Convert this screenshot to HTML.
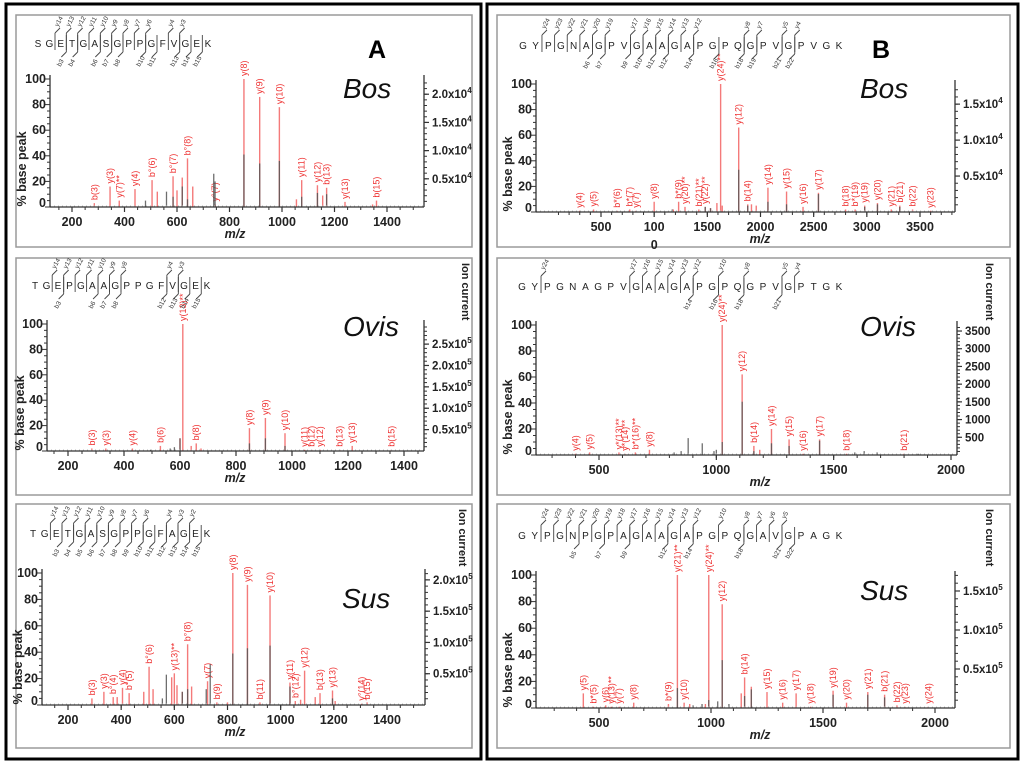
<!DOCTYPE html>
<html><head><meta charset="utf-8">
<style>
html,body{margin:0;padding:0;background:#fff;}
svg{display:block;font-family:"Liberation Sans",sans-serif;}
</style></head>
<body>
<svg id="fig" width="1024" height="765" viewBox="0 0 1024 765" xmlns="http://www.w3.org/2000/svg">
<rect x="6" y="4" width="475" height="755" fill="none" stroke="#000" stroke-width="3"/>
<rect x="487" y="4" width="531" height="755" fill="none" stroke="#000" stroke-width="3"/>
<text x="368" y="58" font-size="25" font-weight="bold">A</text>
<text x="872" y="58" font-size="25" font-weight="bold">B</text>
</svg>
<script>
// ===== Data: A Bos =====
const aBosMz   = [285,345,380,440,505,525,585,600,620,640,660,745,855,915,990,1055,1075,1135,1155,1170,1240,1345,1360];
const aBosInt  = [3,16,5,14,21,12,24,13,23,38,16,2,100,86,78,6,21,17,9,15,4,2,5];
const aBosLab  = ["b(3)","y(3)","y(7)**","y(4)","b°(6)","","b°(7)","","","b°(8)","","y°(7)","y(8)","y(9)","y(10)","","y(11)","y(12)","","b(13)","y(13)","","b(15)"];
const aBosBkMz = [480,560,585,620,640,740,745,855,915,990,1075,1135,1170];
const aBosBkInt= [5,12,8,16,6,26,20,41,34,36,8,11,10];
// ===== Data: A Ovis =====
const aOvisMz  = [285,335,430,530,600,610,640,658,675,848,905,975,1045,1070,1100,1170,1215,1355];
const aOvisInt = [2,2,2,4,10,100,4,6,2,18,26,14,1,1,1,1,4,1];
const aOvisLab = ["b(3)","y(3)","y(4)","b(6)","","y(13)**","","b(8)","","y(8)","y(9)","y(10)","y(11)","b(12)","y(12)","b(13)","y(13)","b(15)"];
const aOvisBkMz = [495,565,580,600,848,905,975];
const aOvisBkInt= [1,2,3,10,6,10,4];
// ===== Data: A Sus =====
const aSusMz   = [290,335,370,385,405,430,485,505,520,590,600,610,630,650,665,725,760,800,820,875,922,960,1035,1055,1075,1090,1130,1148,1195,1205,1305,1325];
const aSusInt  = [5,10,6,6,13,9,10,29,12,21,24,15,10,46,14,18,2,2,100,91,2,83,17,3,4,26,6,9,11,3,1,2];
const aSusLab  = ["b(3)","y(3)","b°(4)","","y(4)","b°(5)","","b°(6)","","","y(13)**","","","b°(8)","","y(7)","b(9)","","y(8)","y(9)","b(11)","y(10)","y(11)","b°(12)","","y(12)","","b(13)","y(13)","","y°(14)","b(15)"];
const aSusBkMz = [555,570,630,650,720,735,820,875,960,1035,1195];
const aSusBkInt= [5,23,10,12,12,31,39,43,45,14,5];
// ===== Data: B Bos =====
const bBosMz   = [300,430,650,770,830,1000,1180,1230,1290,1420,1480,1530,1590,1625,1640,1795,1880,1915,1960,2070,2245,2400,2545,2800,2890,2980,3100,3230,3310,3430,3600];
const bBosInt  = [1,2,1,2,1,8,2,8,4,2,4,3,7,100,5,66,6,6,5,19,16,4,15,2,2,5,7,2,5,2,1];
const bBosLab  = ["y(4)","y(5)","b*(6)","b*(7)","y(7)","y(8)","","b*(9)","y(20)**","b(21)**","y(22)**","","","y(24)**","","y(12)","b(14)","","","y(14)","y(15)","y(16)","y(17)","b(18)","b*(19)","y(19)","y(20)","y(21)","b(21)","b(22)","y(23)"];
const bBosBkMz = [1170,1480,1530,1795,1880,2070,2245,2545,2980,3100,3310];
const bBosBkInt= [2,4,3,33,5,8,6,14,4,6,4];
// ===== Data: B Ovis =====
const bOvisMz  = [400,460,585,610,655,715,1025,1110,1160,1185,1235,1310,1370,1440,1555,1800];
const bOvisInt = [1,2,2,1,2,4,100,62,7,4,20,12,1,12,1,1];
const bOvisLab = ["y(4)","y(5)","y*(13)**","y*(14)**","b*(16)**","y(8)","y(24)**","y(12)","b(14)","","y(14)","y(15)","y(16)","y(17)","b(18)","b(21)"];
const bOvisBkMz = [820,850,880,940,990,1000,1025,1110,1160,1235,1310,1440,1590,1630,1685,1860];
const bOvisBkInt= [2,3,13,9,3,4,10,41,3,9,7,11,2,3,2,1];
// ===== Data: B Sus =====
const bSusMz   = [430,475,530,555,590,655,810,850,880,905,975,990,1050,1135,1150,1180,1250,1320,1380,1445,1545,1605,1700,1775,1830,1865,1970];
const bSusInt  = [11,1,2,1,1,4,3,100,4,3,3,100,78,11,23,16,12,4,11,1,13,4,12,10,2,1,1];
const bSusLab  = ["y(5)","b*(5)","y(6)","y(13)**","y(7)","y(8)","b*(9)","y(21)**","y(10)","","","y(24)**","y(12)","","b(14)","","y(15)","y(16)","y(17)","y(18)","y(19)","y(20)","y(21)","b(21)","b(22)","y(23)","y(24)"];
const bSusBkMz = [920,960,850,990,1030,1050,1080,1150,1180,1545,1700,1775];
const bSusBkInt= [2,3,15,6,5,36,3,9,14,10,10,8];
// ===== Axis tick data =====
const aXTicks = [200,400,600,800,1000,1200,1400];
const bBosXTicks = [500,1000,1500,2000,2500,3000,3500];
const bBosXTickLabels = ["500","100","1500","2000","2500","3000","3500"];
const bXTicks = [500,1000,1500,2000];
const yTicks = [0,20,40,60,80,100];
const aBosRight = [0.5,1.0,1.5,2.0];
const aOvisRight = [0.5,1.0,1.5,2.0,2.5];
const aSusRight = [0.5,1.0,1.5,2.0];
const bBosRight = [0.5,1.0,1.5];
const bOvisRight = [500,1000,1500,2000,2500,3000,3500];
const bSusRight = [0.5,1.0,1.5];

const NS = "http://www.w3.org/2000/svg";
const svg = document.getElementById('fig');
function mk(tag, attrs, parent, txt){
  const e = document.createElementNS(NS, tag);
  for (const k in attrs) e.setAttribute(k, attrs[k]);
  if (txt !== undefined) e.textContent = txt;
  (parent || svg).appendChild(e);
  return e;
}

function drawPanel(c){
  const g = mk('g', {});
  
  
  const fr = mk('rect', {x:c.fx, y:c.fy, width:c.fw, height:c.fh, fill:'none', stroke:'#9a9a9a', 'stroke-width':1.5}, g);
  
  
  const sx = m => c.p1 + (m - c.m1) * (c.p2 - c.p1) / (c.m2 - c.m1);
  const sy = v => c.base - v * (c.base - c.top) / 100;
  const ry = v => c.base - v * (c.base - c.top) / c.rMax;
  for (let i = 0; i < c.mz.length; i++){
    const x = sx(c.mz[i]), y = sy(c.int[i]);
    const ln = mk('line', {x1:x, x2:x, y1:c.base, y2:y, stroke:'#f47a7a', 'stroke-width':1.4}, g);
    
    
    if (c.lab[i]){
      const t = mk('text', {x:0, y:0, transform:`translate(${x+3},${y-3}) rotate(-90)`, 'font-size':9, fill:'#ee3030'}, g, c.lab[i]);
      
      
    }
  }
  for (let i = 0; i < c.bkMz.length; i++){
    const x = sx(c.bkMz[i]);
    const ln = mk('line', {x1:x, x2:x, y1:c.base, y2:sy(c.bkInt[i]), stroke:'#555', 'stroke-width':1.3, opacity:0.85}, g);
    
    
  }
  mk('line', {x1:c.ax, x2:c.rx, y1:c.base-1, y2:c.base-1, stroke:'#bbb', 'stroke-width':1, 'stroke-dasharray':'1 3'}, g);
  const xa = mk('line', {x1:c.ax, x2:c.rx, y1:c.base, y2:c.base, stroke:'#333', 'stroke-width':1.3}, g);
  
  
  const ya = mk('line', {x1:c.ax, x2:c.ax, y1:c.top-4, y2:c.base, stroke:'#333', 'stroke-width':1.3}, g);
  
  
  const ra = mk('line', {x1:c.rx, x2:c.rx, y1:c.top-4, y2:c.base, stroke:'#333', 'stroke-width':1.3}, g);
  
  
  for (let m = c.minorStart; sx(m) <= c.rx; m += c.minor){
    if (sx(m) < c.ax) continue;
    mk('line', {x1:sx(m), x2:sx(m), y1:c.base, y2:c.base+3, stroke:'#333', 'stroke-width':1}, g);
  }
  c.xt.forEach((v, i) => {
    mk('line', {x1:sx(v), x2:sx(v), y1:c.base, y2:c.base+5, stroke:'#333', 'stroke-width':1.2}, g);
    const t = mk('text', {x:sx(v), y:c.base+19, 'font-size':12.5, 'font-weight':'bold', 'text-anchor':'middle', fill:'#222'}, g, c.xtl ? c.xtl[i] : String(v));
    
    
  });
  for (let v = 0; v <= 100; v += 5){
    mk('line', {x1:c.ax-(v%20===0?5:3), x2:c.ax, y1:sy(v), y2:sy(v), stroke:'#333', 'stroke-width':1}, g);
  }
  yTicks.forEach(v => {
    const t = mk('text', {x:c.ax-4, y:sy(v)+4 - (v===0?4:0), 'font-size':12.5, 'font-weight':'bold', 'text-anchor':'end', fill:'#222'}, g, String(v));
    
    
  });
  const rStep = c.rTicks[1] - c.rTicks[0];
  for (let v = rStep/5; v <= c.rMax; v += rStep/5){
    mk('line', {x1:c.rx, x2:c.rx+3, y1:ry(v), y2:ry(v), stroke:'#333', 'stroke-width':1}, g);
  }
  c.rTicks.forEach(v => {
    mk('line', {x1:c.rx, x2:c.rx+5, y1:ry(v), y2:ry(v), stroke:'#333', 'stroke-width':1.2}, g);
    const t = mk('text', {x:c.rx+8, y:ry(v)+4, 'font-size':11.5, 'font-weight':'bold', fill:'#222'}, g);
    
    
    if (c.rExp){
      mk('tspan', {}, t, v.toFixed(1) + 'x10');
      mk('tspan', {dy:-5, 'font-size':8}, t, c.rExp);
    } else {
      t.textContent = String(v);
    }
  });
  if (c.extraZero){
    const t = mk('text', {x:sx(1000), y:c.base+37, 'font-size':12.5, 'font-weight':'bold', 'text-anchor':'middle', fill:'#222'}, g, '0');
    
    
  }
  const yl = mk('text', {x:0, y:0, transform:`translate(${c.ylx},${c.base-38}) rotate(-90)`, 'font-size':12.5, 'font-weight':'bold', 'text-anchor':'middle', fill:'#222'}, g, '% base peak');
  
  
  const xl = mk('text', {x:c.mzx, y:c.base+31, 'font-size':12.5, 'font-weight':'bold', 'font-style':'italic', 'text-anchor':'middle', fill:'#222'}, g, 'm/z');
  
  
  if (c.ionX){
    const il = mk('text', {x:0, y:0, transform:`translate(${c.ionX},${c.fy+5}) rotate(90)`, 'font-size':11, 'font-weight':'bold', fill:'#222'}, g, 'Ion current');
    
    
  }
  const sp = mk('text', {x:c.spx, y:c.spy, 'font-size':28, 'font-style':'italic', fill:'#111'}, g, c.species);
  
  
  const n = c.seq.length, dx = (c.sx2 - c.sx1) / (n - 1);
  for (let i = 0; i < n; i++){
    const t = mk('text', {x:c.sx1 + i*dx, y:c.sy+4, 'font-size':10, 'text-anchor':'middle', fill:'#222'}, g, c.seq[i]);
    
    
  }
  const bx = k => c.sx1 + (k - 0.5) * dx;
  c.yIons.forEach(num => {
    const x = bx(n - num);
    mk('line', {x1:x, x2:x, y1:c.sy+7, y2:c.sy-10, stroke:'#444', 'stroke-width':0.9}, g);
    mk('line', {x1:x, x2:x+5, y1:c.sy-10, y2:c.sy-15, stroke:'#444', 'stroke-width':0.9}, g);
    const t = mk('text', {x:0, y:0, transform:`translate(${x+3},${c.sy-16}) rotate(-60)`, 'font-size':6.5, fill:'#333'}, g, 'y' + num);
    
    
  });
  c.bIons.forEach(num => {
    const x = bx(num);
    mk('line', {x1:x, x2:x, y1:c.sy-8, y2:c.sy+9, stroke:'#444', 'stroke-width':0.9}, g);
    mk('line', {x1:x, x2:x-5, y1:c.sy+9, y2:c.sy+14, stroke:'#444', 'stroke-width':0.9}, g);
    const t = mk('text', {x:0, y:0, transform:`translate(${x-6},${c.sy+24}) rotate(-60)`, 'font-size':6.5, fill:'#333'}, g, 'b' + num);
    
    
  });
}

drawPanel({name:'a-bos-spectrum', fx:16, fy:15, fw:456, fh:232,
  mz:aBosMz, int:aBosInt, lab:aBosLab, bkMz:aBosBkMz, bkInt:aBosBkInt,
  m1:200, p1:72, m2:1400, p2:387, ax:50, rx:424, top:79, base:207,
  xt:aXTicks, minor:50, minorStart:150, rTicks:aBosRight, rMax:2.27, rExp:'4',
  ylx:26, mzx:235, species:'Bos', spx:343, spy:98,
  seq:'SGETGASGPPGFVGEK'.split(''), sx1:38, sx2:208, sy:43,
  yIons:[14,13,12,11,10,9,8,7,6,4,3], bIons:[3,4,6,7,8,10,11,13,14,15]});
drawPanel({name:'a-ovis-spectrum', fx:16, fy:258, fw:456, fh:237,
  mz:aOvisMz, int:aOvisInt, lab:aOvisLab, bkMz:aOvisBkMz, bkInt:aOvisBkInt,
  m1:200, p1:68, m2:1400, p2:404, ax:47, rx:424, top:324, base:451,
  xt:aXTicks, minor:50, minorStart:150, rTicks:aOvisRight, rMax:2.97, rExp:'5',
  ylx:24, mzx:235, species:'Ovis', spx:343, spy:336, ionX:462,
  seq:'TGEPGAAGPPGFVGEK'.split(''), sx1:35, sx2:207, sy:285,
  yIons:[14,13,12,11,10,9,8,4,3], bIons:[3,6,7,8,12,13,14,15]});
drawPanel({name:'a-sus-spectrum', fx:16, fy:504, fw:456, fh:244,
  mz:aSusMz, int:aSusInt, lab:aSusLab, bkMz:aSusBkMz, bkInt:aSusBkInt,
  m1:200, p1:68, m2:1400, p2:387, ax:42, rx:425, top:573, base:705,
  xt:aXTicks, minor:50, minorStart:150, rTicks:aSusRight, rMax:2.11, rExp:'5',
  ylx:22, mzx:235, species:'Sus', spx:342, spy:608, ionX:459,
  seq:'TGETGASGPPGFAGEK'.split(''), sx1:33, sx2:207, sy:533,
  yIons:[14,13,12,11,10,9,8,7,6,4,3,2], bIons:[3,4,5,6,7,8,9,10,11,12,13,14,15]});
drawPanel({name:'b-bos-spectrum', fx:497, fy:15, fw:513, fh:232,
  mz:bBosMz, int:bBosInt, lab:bBosLab, bkMz:bBosBkMz, bkInt:bBosBkInt,
  m1:500, p1:601, m2:3500, p2:920, ax:536, rx:955, top:84, base:212,
  xt:bBosXTicks, xtl:bBosXTickLabels, extraZero:true, minor:100, minorStart:100, rTicks:bBosRight, rMax:1.78, rExp:'4',
  ylx:512, mzx:760, species:'Bos', spx:860, spy:98,
  seq:'GYPGNAGPVGAAGAPGPQGPVGPVGK'.split(''), sx1:523, sx2:839, sy:45,
  yIons:[24,23,22,21,20,19,17,16,15,14,13,12,8,7,5,4], bIons:[6,7,9,10,11,12,14,16,18,19,21,22]});
drawPanel({name:'b-ovis-spectrum', fx:497, fy:258, fw:513, fh:237,
  mz:bOvisMz, int:bOvisInt, lab:bOvisLab, bkMz:bOvisBkMz, bkInt:bOvisBkInt,
  m1:500, p1:599, m2:2000, p2:951, ax:536, rx:957, top:325, base:455,
  xt:bXTicks, minor:100, minorStart:300, rTicks:bOvisRight, rMax:3670,
  ylx:512, mzx:760, species:'Ovis', spx:860, spy:336, ionX:986,
  seq:'GYPGNAGPVGAAGAPGPQGPVGPTGK'.split(''), sx1:522, sx2:839, sy:286,
  yIons:[24,17,16,15,14,13,12,10,8,5,4], bIons:[14,16,18,21]});
drawPanel({name:'b-sus-spectrum', fx:497, fy:504, fw:513, fh:244,
  mz:bSusMz, int:bSusInt, lab:bSusLab, bkMz:bSusBkMz, bkInt:bSusBkInt,
  m1:500, p1:599, m2:2000, p2:935, ax:536, rx:955, top:575, base:708,
  xt:bXTicks, minor:100, minorStart:300, rTicks:bSusRight, rMax:1.705, rExp:'5',
  ylx:512, mzx:760, species:'Sus', spx:860, spy:600, ionX:986,
  seq:'GYPGNPGPAGAAGAPGPQGAVGPAGK'.split(''), sx1:522, sx2:839, sy:535,
  yIons:[24,23,22,21,20,19,18,17,16,15,14,13,12,10,8,7,6,5], bIons:[5,7,9,12,14,18,21,22]});
</script>
</body></html>
